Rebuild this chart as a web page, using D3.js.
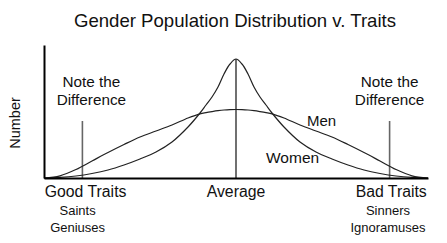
<!DOCTYPE html>
<html>
<head>
<meta charset="utf-8">
<script src="https://cdn.jsdelivr.net/npm/d3@7/dist/d3.min.js"></script>
<style>
  body { margin: 0; background: #fff; }
  text { font-family: "Liberation Sans", Arial, sans-serif; fill: #111; }
</style>
</head>
<body>
<div id="chart"></div>
<script>
// trait score: negative = good, positive = bad
const traits = [-12, -11, -10, -9, -8, -7, -6, -5, -4, -3, -2.25, -1.875, -1.5, -1.125, -0.75, -0.375, 0,
                0.375, 0.75, 1.125, 1.5, 1.875, 2.25, 3, 4, 5, 6, 7, 8, 9, 10, 11, 12];
const women = [0, 0.6, 2, 4.5, 8, 13, 19, 26, 36, 51, 65, 73, 81, 91, 104, 114, 119,
               114, 104, 91, 81, 73, 65, 51, 36, 26, 19, 13, 8, 4.5, 2, 0.6, 0];
const men = [0, 2.2, 8.5, 17, 25.5, 33.5, 41, 47, 53, 60, 64.2, 65.4, 66.4, 67.3, 68, 68.4, 68.5,
             68.4, 68, 67.3, 66.4, 65.4, 64.2, 60, 53, 47, 41, 33.5, 25.5, 17, 8.5, 2.2, 0];

const axisLabels = ["Good Traits", "Average", "Bad Traits"];
const axisLabelPos = [-9.4, 0, 9.7];
const goodTypes = ["Saints", "Geniuses"];
const badTypes = ["Sinners", "Ignoramuses"];
const notePos = [-9.6, 9.6];
const noteHeight = 57;

const width = 447, height = 243;

const svg = d3.select("#chart").append("svg")
    .attr("width", width)
    .attr("height", height);

const x = d3.scaleLinear().domain([-12, 12]).range([44, 428]);
const y = d3.scaleLinear().domain([0, 133]).range([178, 45]);

// title
svg.append("text")
    .attr("x", 235).attr("y", 27)
    .attr("text-anchor", "middle")
    .style("font-size", "18.6px")
    .text("Gender Population Distribution v. Traits");

// y label
svg.append("text")
    .attr("transform", "translate(20,123) rotate(-90)")
    .attr("text-anchor", "middle")
    .style("font-size", "14.5px")
    .text("Number");

// note lines
svg.append("g").selectAll("line")
    .data(notePos)
    .join("line")
    .attr("x1", d => x(d)).attr("x2", d => x(d))
    .attr("y1", y(0)).attr("y2", y(noteHeight))
    .style("stroke", "#666")
    .style("stroke-width", 1.6);

// note text
notePos.forEach(p => {
    const t = svg.append("text")
        .attr("text-anchor", "middle")
        .style("font-size", "15.3px");
    const cx = x(p) + (p < 0 ? 9 : 0);
    t.append("tspan").attr("x", cx).attr("y", 87).text("Note the");
    t.append("tspan").attr("x", cx).attr("y", 105).text("Difference");
});

// average line
svg.append("line")
    .attr("x1", x(0)).attr("x2", x(0))
    .attr("y1", y(0)).attr("y2", y(d3.max(women)))
    .style("stroke", "#111")
    .style("stroke-width", 1.2);

const line = d3.line()
    .x((d, i) => x(traits[i]))
    .y(d => y(d))
    .curve(d3.curveCatmullRom.alpha(0.5));

[men, women].forEach(series => {
    svg.append("path")
        .datum(series)
        .attr("d", line)
        .style("fill", "none")
        .style("stroke", "#222")
        .style("stroke-width", 1.2);
});

svg.append("text").attr("x", 307).attr("y", 126)
    .style("font-size", "15px").text("Men");
svg.append("text").attr("x", 266).attr("y", 163)
    .style("font-size", "15.5px").text("Women");

// axes
const xAxis = d3.axisBottom(x).tickValues([]).tickSizeOuter(0);
const yAxis = d3.axisLeft(y).tickValues([]).tickSizeOuter(0);

svg.append("g")
    .attr("transform", `translate(0,${y(0)})`)
    .call(xAxis)
    .select(".domain")
    .style("stroke", "#000").style("stroke-width", 2);

svg.append("g")
    .attr("transform", `translate(${x(-12)},0)`)
    .call(yAxis)
    .select(".domain")
    .style("stroke", "#000").style("stroke-width", 2);

// category labels
svg.append("g").selectAll("text")
    .data(axisLabels)
    .join("text")
    .attr("x", (d, i) => x(axisLabelPos[i]))
    .attr("y", 197)
    .attr("text-anchor", "middle")
    .style("font-size", "15.8px")
    .text(d => d);

svg.append("g").selectAll("text")
    .data(goodTypes)
    .join("text")
    .attr("x", x(-9.9))
    .attr("y", (d, i) => 215 + i * 17)
    .attr("text-anchor", "middle")
    .style("font-size", "13px")
    .text(d => d);

svg.append("g").selectAll("text")
    .data(badTypes)
    .join("text")
    .attr("x", x(9.5))
    .attr("y", (d, i) => 215 + i * 17)
    .attr("text-anchor", "middle")
    .style("font-size", "13px")
    .text(d => d);
</script>
</body>
</html>
